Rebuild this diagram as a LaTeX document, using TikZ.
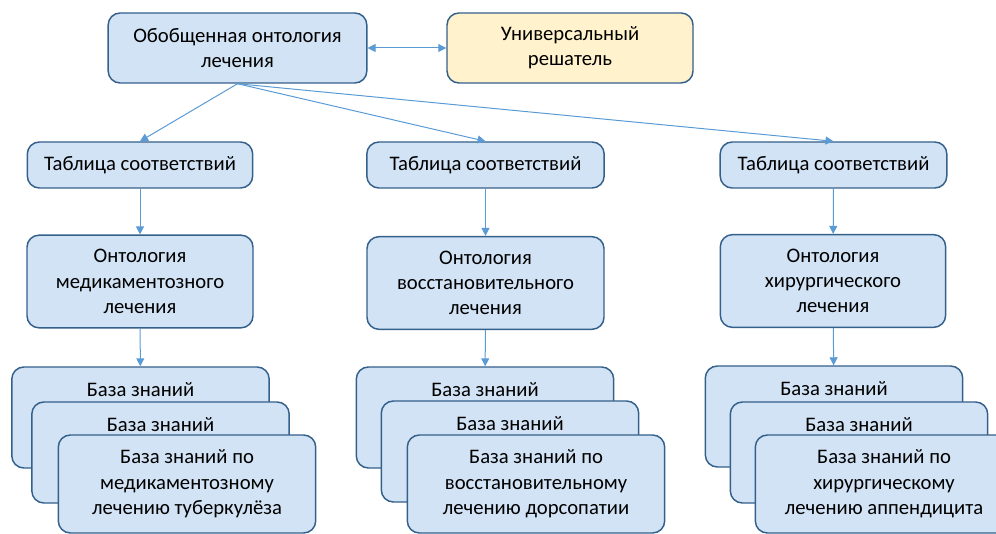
\documentclass[tikz,border=0pt]{standalone}
\usepackage{fontspec}
\setmainfont{Carlito}
\usepackage{xcolor}
\usetikzlibrary{arrows.meta}
\definecolor{zalivka}{RGB}{210,227,245}
\definecolor{zhelt}{RGB}{255,242,204}
\definecolor{ramka}{RGB}{52,96,140}
\definecolor{liniya}{RGB}{91,155,213}
\begin{document}
\begin{tikzpicture}[x=0.75pt, y=-0.75pt, font=\fontsize{15.5}{19}\selectfont,
  >={Triangle[length=6pt, width=6pt]},
  blok/.style={draw=ramka, line width=1.1pt, rounded corners=9pt, fill=zalivka, align=center, inner sep=0pt},
  baza/.style={blok, minimum width=193pt, minimum height=75.75pt},
  zagl/.style={label={[anchor=base, yshift=-22.5pt]north:#1}},
  strelka/.style={->, draw=liniya, line width=0.75pt}]
\useasboundingbox (0,0) rectangle (996,534);
% верхний уровень
\node[blok, minimum width=194pt, minimum height=52.5pt] (obsh) at (237.5,48) {Обобщенная онтология\\лечения};
\node[blok, fill=zhelt, minimum width=184.5pt, minimum height=52.5pt] (resh) at (570,48) {Универсальный\\решатель};
% таблицы соответствий
\node[blok, minimum width=169pt, minimum height=34.5pt] (tab1) at (140,165) {Таблица соответствий};
\node[blok, minimum width=178pt, minimum height=34.5pt] (tab2) at (485.5,165) {Таблица соответствий};
\node[blok, minimum width=170pt, minimum height=34.5pt] (tab3) at (833.5,165) {Таблица соответствий};
% онтологии
\node[blok, minimum width=169.5pt, minimum height=69.5pt] (ont1) at (140,281.5) {Онтология\\медикаментозного\\лечения};
\node[blok, minimum width=177.75pt, minimum height=69.5pt] (ont2) at (485.5,283) {Онтология\\восстановительного\\лечения};
\node[blok, minimum width=169pt, minimum height=69.5pt] (ont3) at (833,281) {Онтология\\хирургического\\лечения};
% базы знаний
\node[baza, zagl=База знаний] (kb1a) at (140.5,417.5) {};
\node[baza, zagl=База знаний] (kb1b) at (160.5,452.5) {};
\node[baza, minimum height=73.5pt] (kb1c) at (187,484) {База знаний по\\медикаментозному\\лечению туберкулёза};
\node[baza, zagl=База знаний] (kb2a) at (485,417.5) {};
\node[baza, zagl=База знаний] (kb2b) at (510,451.5) {};
\node[baza, minimum height=73.5pt] (kb2c) at (536,484) {База знаний по\\восстановительному\\лечению дорсопатии};
\node[baza, zagl=База знаний] (kb3a) at (834,416.5) {};
\node[baza, zagl=База знаний] (kb3b) at (859,452.5) {};
\node[baza, minimum height=73.5pt] (kb3c) at (884,484) {База знаний по\\хирургическому\\лечению аппендицита};
% связи
\draw[strelka, <->] (obsh) -- (resh);
\draw[strelka] (obsh.south) -- (tab1.north); \draw[strelka] (obsh.south) -- (tab2.north); \draw[strelka] (obsh.south) -- (tab3.north);
\draw[strelka] (tab1) -- (ont1); \draw[strelka] (tab2) -- (ont2); \draw[strelka] (tab3) -- (ont3);
\draw[strelka] (ont1) -- (kb1a); \draw[strelka] (ont2) -- (kb2a); \draw[strelka] (ont3) -- (kb3a);
\end{tikzpicture}
\end{document}
